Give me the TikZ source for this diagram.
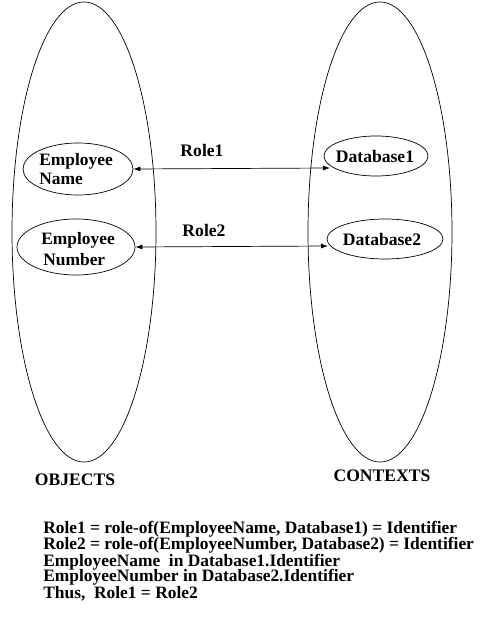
\documentclass[tikz,border=0pt]{standalone}
\usepackage{fontspec}
\setmainfont{Liberation Serif}
\usetikzlibrary{shapes.geometric,arrows.meta}
\begin{document}
\begin{tikzpicture}[x=1pt,y=1pt,line width=0.7pt,
  oval/.style={draw,ellipse,inner sep=0pt},
  txt/.style={inner sep=0pt,anchor=base west,font=\fontsize{17.4}{19}\selectfont\bfseries},
  ctxt/.style={inner sep=0pt,anchor=base,font=\fontsize{17.6}{19}\selectfont\bfseries},
  link/.style={{Latex[length=7pt,width=5pt]}-{Latex[length=7pt,width=5pt]}}]
\useasboundingbox (0,0) rectangle (484,625);
% the two large groups
\node[oval,minimum width=144,minimum height=460] (objects) at (84,393) {};
\node[oval,minimum width=144,minimum height=460] (contexts) at (380,393) {};
% members
\node[oval,minimum width=110,minimum height=52] (ename) at (78,456) {};
\node[oval,minimum width=118,minimum height=56] (enum) at (76,378) {};
\node[oval,minimum width=104,minimum height=40] (db1) at (376,469) {};
\node[oval,minimum width=116,minimum height=40] (db2) at (385,386) {};
% member labels
\node[txt] (en1) at (39,459) {Employee};
\node[txt] (en2) at (39,440) {Name};
\node[txt] (em1) at (41,380) {Employee};
\node[txt] (em2) at (43,359) {Number};
\node[ctxt] (d1) at (375,462) {Database1};
\node[ctxt] (d2) at (382,379) {Database2};
% roles
\coordinate (r1end) at (330,457);
\coordinate (r2end) at (328,379);
\draw[link] (ename.east) -- (r1end);
\draw[link] (enum.east) -- (r2end);
\node[ctxt] (role1) at (202,468) {Role1};
\node[ctxt] (role2) at (204,388) {Role2};
% group captions
\node[ctxt] (cobj) at (75,139) {OBJECTS};
\node[ctxt] (cctx) at (382,143) {CONTEXTS};
% statements
\node[txt] (l1) at (43,91) {Role1 = role-of(EmployeeName, Database1) = Identifier};
\node[txt] (l2) at (43,75) {Role2 = role-of(EmployeeNumber, Database2) = Identifier};
\node[txt] (l3) at (43,59) {EmployeeName\ \ in Database1.Identifier};
\node[txt] (l4) at (43,43) {EmployeeNumber in Database2.Identifier};
\node[txt] (l5) at (43,27) {Thus,\ \ Role1 = Role2};
\end{tikzpicture}
\end{document}
